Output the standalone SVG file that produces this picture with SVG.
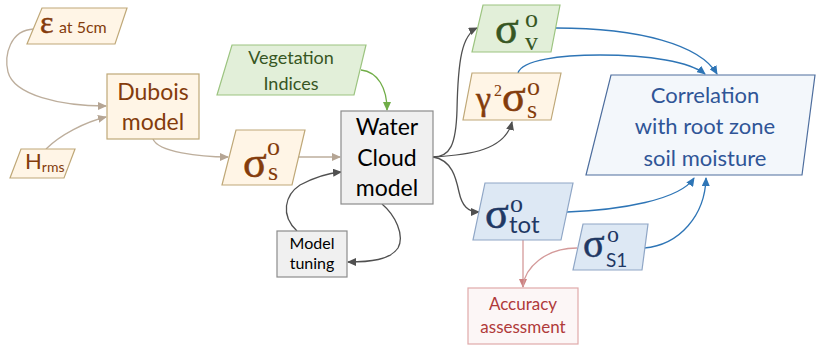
<svg xmlns="http://www.w3.org/2000/svg" width="817" height="346" viewBox="0 0 817 346">
<defs>
<style>
.t{font-family:Lato,"Open Sans","Liberation Sans",sans-serif;text-anchor:middle}
.m{font-family:"Liberation Serif","DejaVu Serif",serif}
.th{stroke-width:0.5}
.or{fill:#fff5e6;stroke:#bfa878;stroke-width:1.2}
.gr{fill:#e2efd9;stroke:#9cc480;stroke-width:1.2}
.bl{fill:#dde8f4;stroke:#8fa6c6;stroke-width:1.2}
.gy{fill:#f0f0f0;stroke:#8c8c8c;stroke-width:1.2}
.cs{fill:#f3f7fb;stroke:#4e6e9e;stroke-width:1.2}
.ac{fill:#fcf6f6;stroke:#dfaaaa;stroke-width:1.2}
.br{fill:#843c0c;stroke:#843c0c}
.dg{fill:#375623;stroke:#375623}
.db{fill:#1f3864;stroke:#1f3864}
.ns{stroke:none}
.c{fill:none;stroke-width:1.3}
.cb{stroke:#bdae9c}
.cg{stroke:#70ad47}
.ck{stroke:#505050}
.cu{stroke:#2e75b6}
.cp{stroke:#d49a9a}
</style>
<marker id="ab" markerWidth="9" markerHeight="8" refX="8" refY="4" orient="auto" markerUnits="userSpaceOnUse"><path d="M0,0 L9,4 L0,8 Z" fill="#b5a594"/></marker>
<marker id="ag" markerWidth="9" markerHeight="8" refX="8" refY="4" orient="auto" markerUnits="userSpaceOnUse"><path d="M0,0 L9,4 L0,8 Z" fill="#70ad47"/></marker>
<marker id="ak" markerWidth="9" markerHeight="8" refX="8" refY="4" orient="auto" markerUnits="userSpaceOnUse"><path d="M0,0 L9,4 L0,8 Z" fill="#505050"/></marker>
<marker id="au" markerWidth="9" markerHeight="8" refX="8" refY="4" orient="auto" markerUnits="userSpaceOnUse"><path d="M0,0 L9,4 L0,8 Z" fill="#2e75b6"/></marker>
<marker id="ap" markerWidth="9" markerHeight="8" refX="8" refY="4" orient="auto" markerUnits="userSpaceOnUse"><path d="M0,0 L9,4 L0,8 Z" fill="#cc8080"/></marker>
</defs>
<rect width="817" height="346" fill="#ffffff"/>

<g id="connectors">
<path class="c cb" d="M34,29 C10,30 4,55 8,72 C14,95 60,106 106,106" marker-end="url(#ab)"/>
<path class="c cb" d="M46,149 C60,135 85,122 106,117" marker-end="url(#ab)"/>
<path class="c cb" d="M153,139 C158,152 200,157 228,157" marker-end="url(#ab)"/>
<path class="c cb" d="M299,157 L340,157" marker-end="url(#ab)"/>
<path class="c cg" d="M361,70 C378,72 387,88 387,110" marker-end="url(#ag)"/>
<path class="c ck" d="M433,157 C450,157 456,145 457,110 C458,60 462,35 477,28" marker-end="url(#ak)"/>
<path class="c ck" d="M433,157 C470,155 505,150 512,122" marker-end="url(#ak)"/>
<path class="c ck" d="M433,157 C452,160 456,178 459,192 C462,206 468,212 479,212" marker-end="url(#ak)"/>
<path class="c ck" d="M297,231 C280,215 285,195 300,185 C315,177 330,173 341,172" marker-end="url(#ak)"/>
<path class="c ck" d="M382,204 C395,215 405,235 398,248 C390,260 370,262 348,262" marker-end="url(#ak)"/>
<path class="c cu" d="M556,28 C640,28 700,45 717,74" marker-end="url(#au)"/>
<path class="c cu" d="M518,73 C522,60 560,55 600,55 C650,55 690,62 705,74" marker-end="url(#au)"/>
<path class="c cu" d="M567,212 C620,210 680,200 694,178" marker-end="url(#au)"/>
<path class="c cu" d="M644,248 C680,245 705,215 706,178" marker-end="url(#au)"/>
<path class="c cp" d="M523,240 L523,287" marker-end="url(#ap)"/>
<path class="c cp" d="M577,248 C545,248 525,268 523,286"/>
</g>

<g id="eps">
<polygon class="or" points="42,8 127,8 115,44 27,44"/>
<text x="40" y="33" class="m br th" font-size="32">ε<tspan class="t ns" x="59" font-size="16" style="text-anchor:start">at 5cm</tspan></text>
</g>

<g id="hrms">
<polygon class="or" points="21,149 75,149 64,178 10,178"/>
<text x="25" y="169" class="t br ns" font-size="22" style="text-anchor:start">H<tspan font-size="14" dy="3">rms</tspan></text>
</g>

<g id="dubois">
<rect class="or" x="107" y="74" width="92" height="65"/>
<text x="153" y="100" class="t br ns" font-size="23">Dubois</text>
<text x="153" y="130" class="t br ns" font-size="23">model</text>
</g>

<g id="sigma_s">
<polygon class="or" points="236,130 305,130 292,185 222,185"/>
<text x="243" y="177" class="m br th" font-size="44">σ<tspan class="ns" x="267" y="155" font-size="26">o</tspan><tspan class="ns" x="268" y="180" font-size="26">s</tspan></text>
</g>

<g id="veg">
<polygon class="gr" points="232,45 366,45 354,95 217,95"/>
<text x="291" y="64" class="t dg ns" font-size="18">Vegetation</text>
<text x="291" y="90" class="t dg ns" font-size="18">Indices</text>
</g>

<g id="wcm">
<rect class="gy" x="341" y="111" width="92" height="93"/>
<text x="387" y="135" class="t" font-size="23" fill="#000">Water</text>
<text x="387" y="166" class="t" font-size="23" fill="#000">Cloud</text>
<text x="387" y="196" class="t" font-size="23" fill="#000">model</text>
</g>

<g id="tuning">
<rect class="gy" x="277" y="231" width="70" height="46"/>
<text x="312" y="249" class="t" font-size="16" fill="#000">Model</text>
<text x="312" y="269" class="t" font-size="16" fill="#000">tuning</text>
</g>

<g id="sigma_v">
<polygon class="gr" points="483,5 560,5 551,52 472,52"/>
<text x="495" y="43" class="m dg th" font-size="44">σ<tspan class="ns" x="525" y="27" font-size="26">o</tspan><tspan class="ns" x="525" y="50" font-size="26">v</tspan></text>
</g>

<g id="gamma">
<polygon class="or" points="472,73 561,73 551,120 463,120"/>
<text x="476" y="110" class="m br th" font-size="34">γ<tspan x="494" y="96" font-size="16" class="ns">2</tspan><tspan x="502" y="111" font-size="44">σ</tspan><tspan class="ns" x="527" y="95" font-size="26">o</tspan><tspan class="ns" x="527" y="118" font-size="26">s</tspan></text>
</g>

<g id="corr">
<polygon class="cs" points="611,75 815,75 802,175 586,175"/>
<text x="705" y="103" class="t" font-size="22" fill="#2f5597">Correlation</text>
<text x="705" y="134" class="t" font-size="22" fill="#2f5597">with root zone</text>
<text x="705" y="166" class="t" font-size="22" fill="#2f5597">soil moisture</text>
</g>

<g id="sigma_tot">
<polygon class="bl" points="485,183 573,183 561,240 473,240"/>
<text x="485" y="228" class="m db th" font-size="44">σ<tspan class="ns" x="510" y="212" font-size="26">o</tspan><tspan class="t ns" x="509" y="233" font-size="24" style="text-anchor:start">tot</tspan></text>
</g>

<g id="sigma_s1">
<polygon class="bl" points="583,224 648,224 642,270 573,270"/>
<text x="583" y="257" class="m db th" font-size="40">σ<tspan class="ns" x="607" y="242" font-size="24">o</tspan><tspan class="t ns" x="606" y="267" font-size="19" style="text-anchor:start">S1</tspan></text>
</g>

<g id="accuracy">
<rect class="ac" x="468" y="288" width="110" height="56"/>
<text x="523" y="310" class="t" font-size="17" fill="#b03a3a">Accuracy</text>
<text x="523" y="333" class="t" font-size="17" fill="#b03a3a">assessment</text>
</g>
</svg>
